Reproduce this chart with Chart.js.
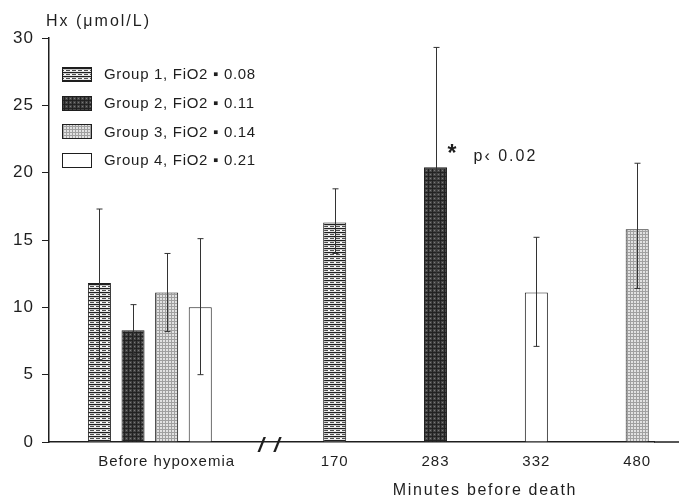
<!DOCTYPE html>
<html>
<head>
<meta charset="utf-8">
<script src="https://cdn.jsdelivr.net/npm/chart.js@4.4.0/dist/chart.umd.min.js"></script>
<style>
  html, body { margin: 0; padding: 0; background: #fff; }
  #wrap { width: 679px; height: 499px; position: relative; }
</style>
</head>
<body>
<div id="wrap"><canvas id="chart-hx"></canvas></div>
<script>
// Hx by group, before hypoxemia and at minutes before death
const groupNames = [
    'Group 1, FiO2 \u25AA 0.08',
    'Group 2, FiO2 \u25AA 0.11',
    'Group 3, FiO2 \u25AA 0.14',
    'Group 4, FiO2 \u25AA 0.21',
];
const beforeLabel = 'Before hypoxemia';
const beforeMean = [11.8, 8.3, 11.1, 10.0];
const beforeLow = [6.1, 6.5, 8.2, 5.0];
const beforeHigh = [17.3, 10.2, 14.0, 15.1];

const deathMinutes = ['170', '283', '332', '480'];
const deathGroup = [0, 1, 3, 2]; // which group is shown at each time point
const deathMean = [16.3, 20.4, 11.1, 15.8];
const deathLow = [14.0, 11.7, 7.1, 11.4];
const deathHigh = [18.8, 29.3, 15.2, 20.7];

const yTicks = [0, 5, 10, 15, 20, 25, 30];
const yTitle = 'Hx (\u03BCmol/L)';
const xTitle = 'Minutes before death';
const sigStar = '*';
const sigNote = 'p\u2039 0.02';
const sigIndex = 1; // annotated time point (283)

// slot layout on the category axis
const BEFORE_START = 1;
const TIME_START = 8;
const TIME_STEP = 3;
const SLOT_COUNT = 18;

const FONT = '"Liberation Sans", Arial, Helvetica, sans-serif';
const INK = '#1e1e1e';

function makePattern(w, h, paint) {
    const c = document.createElement('canvas');
    c.width = w;
    c.height = h;
    const g = c.getContext('2d');
    paint(g);
    return g.createPattern(c, 'repeat');
}

const patterns = [
    // horizontal stripes
    makePattern(6, 4, g => {
        g.fillStyle = '#1e1e1e'; g.fillRect(0, 0, 6, 1);
        g.fillStyle = '#c8c8c8'; g.fillRect(0, 1, 6, 1);
        g.fillStyle = '#4e4e4e'; g.fillRect(0, 2, 6, 1);
        g.fillStyle = '#e6e6e6'; g.fillRect(0, 3, 6, 1);
        g.fillStyle = '#ffffff'; g.fillRect(4, 2, 2, 1);
    }),
    // dark crosshatch
    makePattern(4, 4, g => {
        g.fillStyle = '#444'; g.fillRect(0, 0, 4, 4);
        g.fillStyle = '#222'; g.fillRect(0, 0, 4, 1); g.fillRect(0, 0, 1, 4);
        g.fillStyle = '#7a7a7a'; g.fillRect(2, 2, 1, 1);
    }),
    // light dotted grid
    makePattern(3, 3, g => {
        g.fillStyle = '#e2e2e2'; g.fillRect(0, 0, 3, 3);
        g.fillStyle = '#a0a0a0'; g.fillRect(0, 0, 3, 1); g.fillRect(0, 0, 1, 3);
    }),
    '#ffffff',
];

const slotLabels = Array(SLOT_COUNT).fill('');
slotLabels[BEFORE_START + 2] = beforeLabel;
deathMinutes.forEach((m, k) => { slotLabels[TIME_START + k * TIME_STEP] = m; });

const datasets = groupNames.map((name, g) => {
    const data = Array(SLOT_COUNT).fill(null);
    const lo = Array(SLOT_COUNT).fill(null);
    const hi = Array(SLOT_COUNT).fill(null);
    data[BEFORE_START + g] = beforeMean[g];
    lo[BEFORE_START + g] = beforeLow[g];
    hi[BEFORE_START + g] = beforeHigh[g];
    const k = deathGroup.indexOf(g);
    const s = TIME_START + k * TIME_STEP;
    data[s] = deathMean[k];
    lo[s] = deathLow[k];
    hi[s] = deathHigh[k];
    return {
        label: name,
        data,
        errLow: lo,
        errHigh: hi,
        backgroundColor: patterns[g],
        borderColor: INK,
        borderWidth: 1,
        skipNull: true,
        barPercentage: 0.685,
        categoryPercentage: 1,
    };
});

const spacingPlugin = {
    id: 'spacing',
    beforeDraw(chart) { chart.ctx.letterSpacing = '1px'; },
};

const errorBarPlugin = {
    id: 'errorBars',
    afterDatasetsDraw(chart) {
        const { ctx, scales: { y } } = chart;
        ctx.save();
        ctx.strokeStyle = '#333';
        ctx.lineWidth = 1;
        chart.data.datasets.forEach((ds, i) => {
            chart.getDatasetMeta(i).data.forEach((el, j) => {
                if (ds.data[j] == null) return;
                const x = Math.round(el.x) + 0.5;
                const yl = y.getPixelForValue(ds.errLow[j]);
                const yh = y.getPixelForValue(ds.errHigh[j]);
                ctx.beginPath();
                ctx.moveTo(x, yl); ctx.lineTo(x, yh);
                ctx.moveTo(x - 3, yh); ctx.lineTo(x + 3, yh);
                ctx.moveTo(x - 3, yl); ctx.lineTo(x + 3, yl);
                ctx.stroke();
            });
        });
        ctx.restore();
    },
};

const annotationPlugin = {
    id: 'annotations',
    afterDraw(chart) {
        const { ctx, chartArea, scales: { x, y } } = chart;
        ctx.save();
        ctx.fillStyle = INK;
        ctx.textBaseline = 'middle';

        // axis titles
        ctx.letterSpacing = '2px';
        ctx.font = `16px ${FONT}`;
        ctx.textAlign = 'left';
        ctx.fillText(yTitle, 46, 22);
        ctx.letterSpacing = '1.7px';
        ctx.font = `16px ${FONT}`;
        ctx.textAlign = 'center';
        ctx.fillText(xTitle, 485, 491);

        // extend baseline to the right edge
        ctx.strokeStyle = INK;
        ctx.lineWidth = 1.5;
        ctx.beginPath();
        ctx.moveTo(chartArea.right, chartArea.bottom);
        ctx.lineTo(chart.width, chartArea.bottom);
        ctx.stroke();

        // axis break
        ctx.letterSpacing = '2px';
        ctx.font = `italic bold 21px ${FONT}`;
        ctx.fillText('/ /', 270, 446);

        // significance note on the 283 bar
        const s = TIME_START + sigIndex * TIME_STEP;
        const bx = x.getPixelForValue(s);
        const by = y.getPixelForValue(deathMean[sigIndex]);
        ctx.letterSpacing = '0px';
        ctx.font = `bold 23px ${FONT}`;
        ctx.textAlign = 'left';
        ctx.fillText(sigStar, bx + 12, by - 13);
        ctx.letterSpacing = '2px';
        ctx.font = `16px ${FONT}`;
        ctx.fillText(sigNote, bx + 38, by - 11);

        // legend
        ctx.font = `15px ${FONT}`;
        ctx.letterSpacing = '0.7px';
        chart.data.datasets.forEach((ds, i) => {
            const cy = 74 + i * 28.7;
            ctx.fillStyle = ds.backgroundColor;
            ctx.fillRect(62, Math.round(cy - 7), 29, 14);
            ctx.strokeStyle = INK;
            ctx.lineWidth = 1;
            ctx.strokeRect(62.5, Math.round(cy - 7) + 0.5, 29, 14);
            ctx.fillStyle = INK;
            ctx.fillText(ds.label, 104, cy + 1);
        });
        ctx.restore();
    },
};

new Chart(document.getElementById('chart-hx'), {
    type: 'bar',
    data: { labels: slotLabels, datasets },
    plugins: [spacingPlugin, errorBarPlugin, annotationPlugin],
    options: {
        responsive: true,
        maintainAspectRatio: false,
        animation: false,
        layout: { padding: { top: 38, right: 25, bottom: 0, left: 0 } },
        plugins: { legend: { display: false }, tooltip: { enabled: false } },
        scales: {
            x: {
                type: 'category',
                grid: { display: false },
                border: { display: true, color: INK, width: 1.5 },
                ticks: {
                    autoSkip: false,
                    maxRotation: 0,
                    padding: 3,
                    color: INK,
                    font: { family: FONT, size: 15 },
                },
                afterFit: scale => { scale.height = 57; },
            },
            y: {
                min: 0,
                max: 30,
                afterBuildTicks: scale => { scale.ticks = yTicks.map(v => ({ value: v })); },
                grid: { drawOnChartArea: false, drawTicks: true, tickLength: 7, color: INK },
                border: { display: true, color: INK, width: 1.5 },
                ticks: {
                    padding: 8,
                    color: INK,
                    font: { family: FONT, size: 17 },
                },
                afterFit: scale => { scale.width = 49; },
            },
        },
    },
});
</script>
</body>
</html>
